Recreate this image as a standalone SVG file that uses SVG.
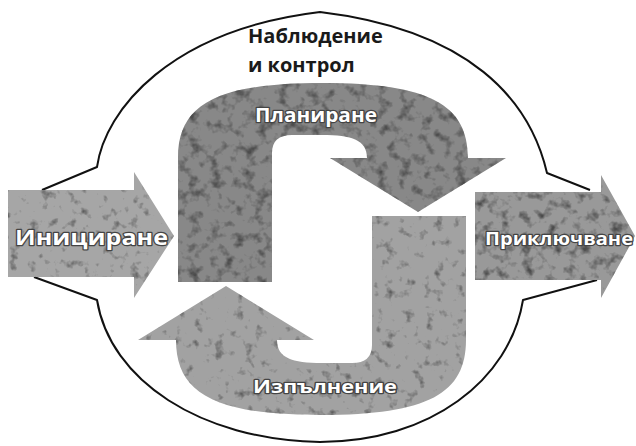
<svg xmlns="http://www.w3.org/2000/svg" width="636" height="446" viewBox="0 0 636 446">
<style>
.outline{fill:none;stroke:#111;stroke-width:2;stroke-linejoin:round}
.lbl{font-family:"Open Sans","Liberation Sans",sans-serif;font-weight:bold;fill:#fff;stroke:#444;stroke-width:2.4;paint-order:stroke;stroke-linejoin:round}
.title{font-family:"Open Sans","Liberation Sans",sans-serif;font-weight:bold;fill:#1a1a1a;font-size:20px}
</style>
<defs>
<filter id="mDark" x="0" y="0" width="1" height="1" color-interpolation-filters="sRGB">
<feTurbulence type="fractalNoise" baseFrequency="0.09" numOctaves="3" seed="7" result="n"/>
<feColorMatrix in="n" type="matrix" values="0 0 0 0 0.3  0 0 0 0 0.3  0 0 0 0 0.3  3 0 0 0 -1.5" result="spots"/>
<feComposite in="spots" in2="SourceGraphic" operator="in" result="cs"/>
<feMerge><feMergeNode in="SourceGraphic"/><feMergeNode in="cs"/></feMerge>
</filter>
<filter id="mLight" x="0" y="0" width="1" height="1" color-interpolation-filters="sRGB">
<feTurbulence type="fractalNoise" baseFrequency="0.1" numOctaves="3" seed="3" result="n"/>
<feColorMatrix in="n" type="matrix" values="0 0 0 0 0.35  0 0 0 0 0.35  0 0 0 0 0.35  3 0 0 0 -1.75" result="spots"/>
<feComposite in="spots" in2="SourceGraphic" operator="in" result="cs"/>
<feMerge><feMergeNode in="SourceGraphic"/><feMergeNode in="cs"/></feMerge>
</filter>
<path id="hook" d="M178,282 L178,158 C178,105 215,83 323,83 C430,83 468,105 468,158 L506,158 L418,212 L330,158 L367,158 C367,140 352,135 322,135 L292,135 Q272,135 272,153 L272,282 Z"/>
</defs>
<rect width="636" height="446" fill="#fff"/>
<g id="connectors">
<path class="outline" d="M42,190 L97,167 C105,110 170,30 320,12 C470,30 530,100 547,173 L590,190"/>
<path class="outline" d="M34,277 L97,300 C110,380 200,440 320,442 C430,442 510,380 523,300 L597,280"/>
</g>
<g id="monitoring">
<text class="title" x="248" y="43">Наблюдение</text>
<text class="title" x="248" y="72">и контрол</text>
</g>
<g id="initiating">
<path d="M8,190 L134,190 L134,172 L174,236 L134,298 L134,277 L8,277 Z" fill="#a6a6a6" filter="url(#mLight)"/>
<text class="lbl" x="15" y="245" font-size="22" textLength="153" lengthAdjust="spacingAndGlyphs">Инициране</text>
</g>
<g id="planning">
<use href="#hook" fill="#888" filter="url(#mDark)"/>
<text class="lbl" x="255" y="122" font-size="19" textLength="122" lengthAdjust="spacingAndGlyphs">Планиране</text>
</g>
<g id="executing">
<use href="#hook" transform="rotate(180 322 249)" fill="#a2a2a2" filter="url(#mLight)"/>
<text class="lbl" x="253" y="393" font-size="17" textLength="144" lengthAdjust="spacingAndGlyphs">Изпълнение</text>
</g>
<g id="closing">
<path d="M475,192 L601,192 L601,175 L635,236 L601,298 L601,280 L475,280 Z" fill="#999" filter="url(#mDark)"/>
<text class="lbl" x="485" y="245" font-size="18" textLength="148" lengthAdjust="spacingAndGlyphs">Приключване</text>
</g>
</svg>
